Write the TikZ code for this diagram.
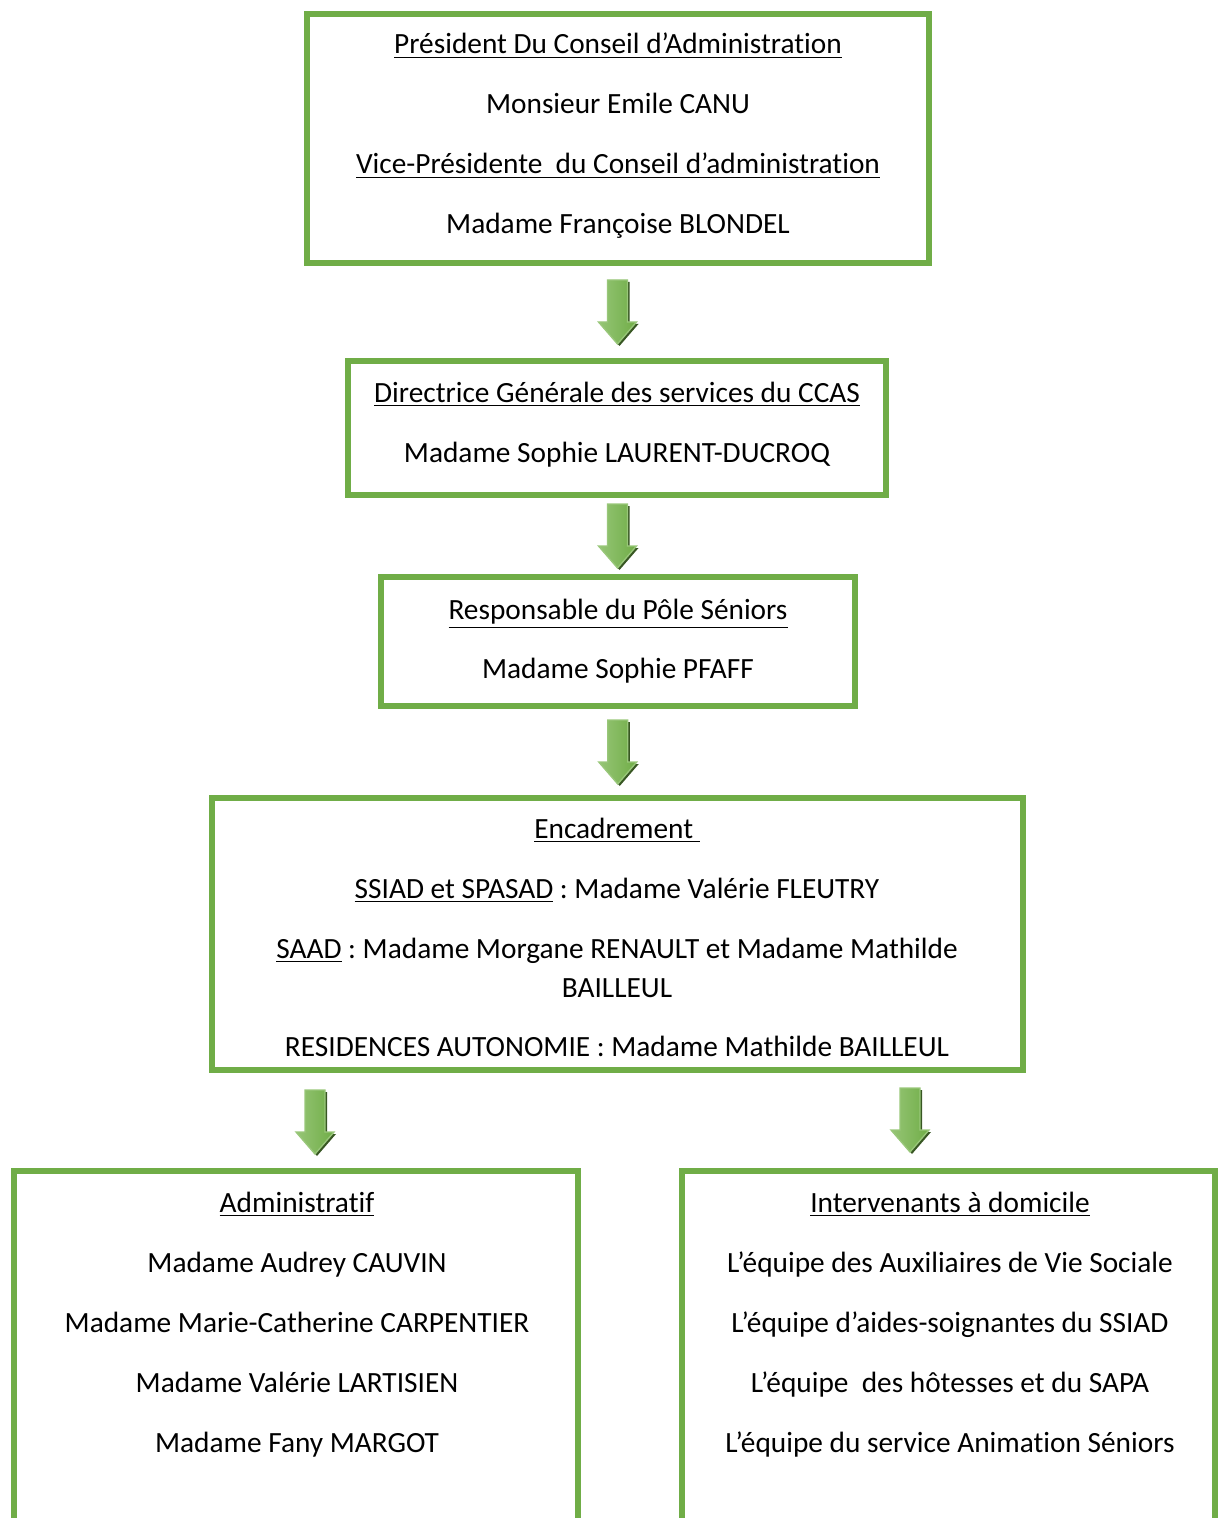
\documentclass[tikz,border=0pt]{standalone}
\usepackage{fontspec}
\setmainfont[Ligatures=NoCommon]{Carlito}
\usetikzlibrary{calc,fit,positioning}
\definecolor{boxgreen}{HTML}{70AD47}
\definecolor{lightgreen}{HTML}{B5D99C}
\definecolor{darkgreen}{HTML}{548235}
\definecolor{shadowgreen}{HTML}{385723}
\newdimen\px \px=0.375pt
\frenchspacing

\begin{document}
\begin{tikzpicture}[x=0.375pt,y=-0.375pt,font=\fontsize{11}{13}\selectfont]

\tikzset{greenbox/.style={draw=boxgreen,line width=6\px,inner sep=0pt},
txt/.style={anchor=base,inner sep=0pt},
blockarrow/.pic={
  \fill[shadowgreen] (-8,-30) -- (12,-30) -- (12,12) -- (21,12) -- (2,34) -- (-17,12) -- (-8,12) -- cycle;
  \draw[draw=lightgreen!60!boxgreen,line width=0.5pt,left color=lightgreen!55!boxgreen,
    middle color=lightgreen,right color=boxgreen]
    (-10,-32) -- (10,-32) -- (10,10) -- (19,10) -- (0,32) -- (-19,10) -- (-10,10) -- cycle;
  \coordinate (-tip) at (0,32);}}

\useasboundingbox (0,0) rectangle (1218,1518);
\clip (0,0) rectangle (1218,1518);

% box corners
\coordinate (pres-nw) at (307,14);   \coordinate (pres-se) at (929,263);
\coordinate (dir-nw) at (348,361);   \coordinate (dir-se) at (886,495);
\coordinate (pole-nw) at (381,577);  \coordinate (pole-se) at (855,706);
\coordinate (enc-nw) at (212,798);   \coordinate (enc-se) at (1023,1070);
\coordinate (admin-nw) at (14,1171); \coordinate (admin-se) at (578,1560);
\coordinate (inter-nw) at (682,1171); \coordinate (inter-se) at (1215,1560);

% boxes
\node[greenbox,fit=(pres-nw)(pres-se)] (pres) {};
\node[greenbox,fit=(dir-nw)(dir-se)] (dir) {};
\node[greenbox,fit=(pole-nw)(pole-se)] (pole) {};
\node[greenbox,fit=(enc-nw)(enc-se)] (enc) {};
\node[greenbox,fit=(admin-nw)(admin-se)] (admin) {};
\node[greenbox,fit=(inter-nw)(inter-se)] (inter) {};

% texts
\node[txt] (presT1) at (618,54) {\underline{Président Du Conseil d’Administration}};
\node[txt] (presT2) at (618,114) {Monsieur Emile CANU};
\node[txt] (presT3) at (618,174) {\underline{Vice-Présidente\ \ du Conseil d’administration}};
\node[txt] (presT4) at (618,234) {Madame Françoise BLONDEL};

\node[txt] (dirT1) at (617,402) {\underline{Directrice Générale des services du CCAS}};
\node[txt] (dirT2) at (617,462) {Madame Sophie LAURENT-DUCROQ};

\node[txt] (poleT1) at (618,619) {\underline{Responsable du Pôle Séniors}};
\node[txt] (poleT2) at (618,678) {Madame Sophie PFAFF};

\node[txt] (encT1) at (617,838) {\underline{Encadrement\ }};
\node[txt] (encT2) at (617,898) {\underline{SSIAD et SPASAD} : Madame Valérie FLEUTRY};
\node[txt] (encT3) at (617,958) {\underline{SAAD} : Madame Morgane RENAULT et Madame Mathilde};
\node[txt] (encT4) at (617,997) {BAILLEUL};
\node[txt] (encT5) at (617,1056) {RESIDENCES AUTONOMIE : Madame Mathilde BAILLEUL};

\node[txt] (adminT1) at (297,1212) {\underline{Administratif}};
\node[txt] (adminT2) at (297,1272) {Madame Audrey CAUVIN};
\node[txt] (adminT3) at (297,1332) {Madame Marie-Catherine CARPENTIER};
\node[txt] (adminT4) at (297,1392) {Madame Valérie LARTISIEN};
\node[txt] (adminT5) at (297,1452) {Madame Fany MARGOT};

\node[txt] (interT1) at (950,1212) {\underline{Intervenants à domicile}};
\node[txt] (interT2) at (950,1272) {L’équipe des Auxiliaires de Vie Sociale};
\node[txt] (interT3) at (950,1332) {L’équipe d’aides-soignantes du SSIAD};
\node[txt] (interT4) at (950,1392) {L’équipe\ \ des hôtesses et du SAPA};
\node[txt] (interT5) at (950,1452) {L’équipe du service Animation Séniors};

% arrows
\pic (a1) at ($(pres.south)!.5!(dir.north)$) {blockarrow};
\pic (a2) at ($(dir.south)!.5!(pole.north)$) {blockarrow};
\pic (a3) at ($(pole.south)!.5!(enc.north)$) {blockarrow};
\pic (a4) at (315,1122) {blockarrow};
\pic (a5) at (910,1120) {blockarrow};

\end{tikzpicture}
\end{document}
